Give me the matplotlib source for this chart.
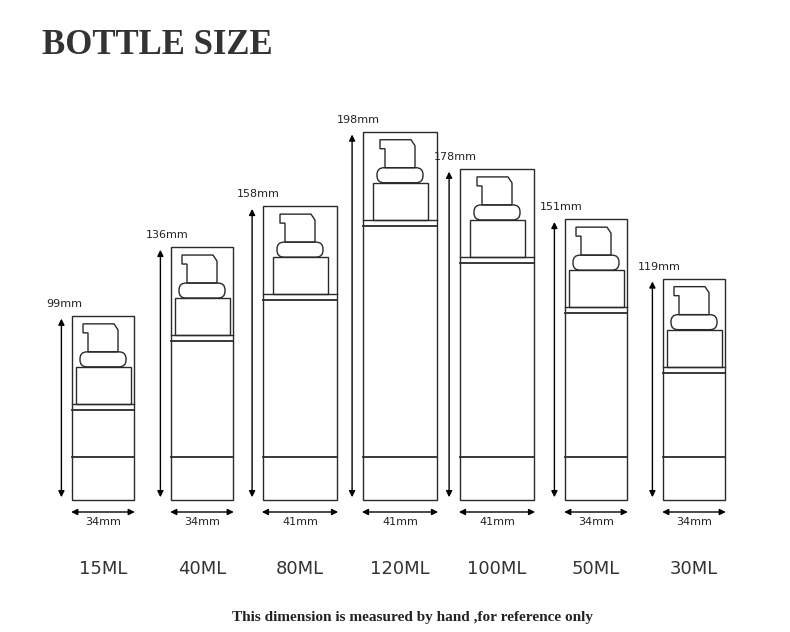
import matplotlib.pyplot as plt
from matplotlib.patches import Rectangle, FancyBboxPatch, Polygon

volumes = ['15ML', '40ML', '80ML', '120ML', '100ML', '50ML', '30ML']
heights_mm = [99, 136, 158, 198, 178, 151, 119]
widths_mm = [34, 34, 41, 41, 41, 34, 34]

centers = [103, 202, 300, 400, 497, 596, 694]
base = 500
px_per_mm_h = 1.86
px_per_mm_w = 1.8
ink = '#2a2a2a'

fig = plt.figure(figsize=(7.9, 6.32), dpi=100)
ax = fig.add_axes([0, 0, 1, 1])
ax.set_xlim(0, 790)
ax.set_ylim(632, 0)
ax.axis('off')

ax.text(42, 45, 'BOTTLE SIZE', fontsize=25, fontweight='bold', family='Liberation Serif',
        color='#333333', va='center', ha='left')

for cx, h, w, vol in zip(centers, heights_mm, widths_mm, volumes):
    H = h * px_per_mm_h
    W = w * px_per_mm_w
    left, top = cx - W / 2, base - H
    ax.add_patch(Rectangle((left, top), W, H, fill=False, ec=ink, lw=1))
    collar = top + 88
    ax.plot([left, left + W], [collar, collar], color=ink, lw=1)
    ax.plot([left, left + W], [collar + 6, collar + 6], color=ink, lw=1.3)
    ax.plot([left, left + W], [base - 43, base - 43], color=ink, lw=1.3)
    # pump cap
    ax.add_patch(Rectangle((cx - 27, collar - 37), 55, 37, fill=False, ec=ink, lw=1))
    ax.add_patch(FancyBboxPatch((cx - 23, collar - 52), 46, 15, boxstyle='round,pad=0,rounding_size=7',
                                fill=False, ec=ink, lw=1))
    act = [(cx - 20, collar - 80), (cx + 11, collar - 80), (cx + 15, collar - 74),
           (cx + 15, collar - 52), (cx - 15, collar - 52), (cx - 15, collar - 71),
           (cx - 20, collar - 71)]
    ax.add_patch(Polygon(act, closed=True, fill=False, ec=ink, lw=1))
    # height dimension
    ax.annotate('', xy=(left - 11, base), xytext=(left - 11, top),
                arrowprops=dict(arrowstyle='<|-|>', color='black', lw=1, mutation_scale=9))
    ax.text(left - 26, top - 12, f'{h}mm', fontsize=8, family='DejaVu Sans Condensed',
            color='#222222', ha='left', va='center')
    # width dimension
    ax.annotate('', xy=(left - 4, 512), xytext=(left + W + 4, 512),
                arrowprops=dict(arrowstyle='<|-|>', color='black', lw=1, mutation_scale=9))
    ax.text(cx, 522, f'{w}mm', fontsize=8, family='DejaVu Sans Condensed',
            color='#222222', ha='center', va='center')
    ax.text(cx, 569, vol, fontsize=13, color='#333333', ha='center', va='center')

ax.text(413, 617, 'This dimension is measured by hand ,for reference only', fontsize=11,
        fontweight='bold', family='Liberation Serif', color='#222222', ha='center', va='center')

fig.savefig('out.png', dpi=100)
